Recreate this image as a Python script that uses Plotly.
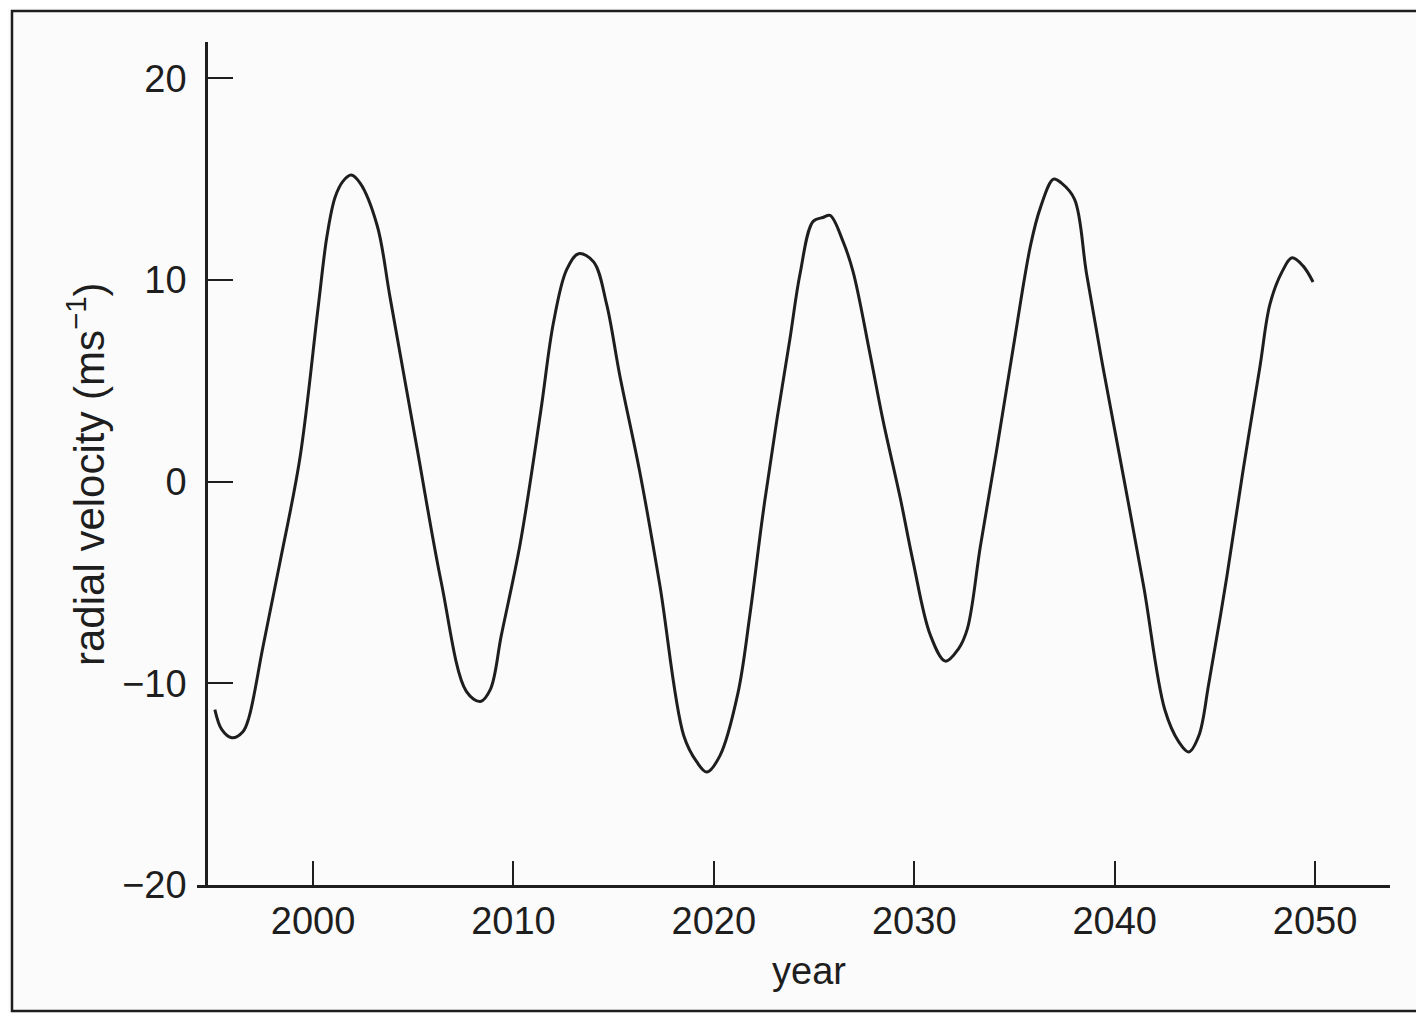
import plotly.graph_objects as go

# Data
years = [1995.1, 1995.45, 1995.95, 1996.5, 1996.8, 1997.5, 1998.35, 1999.35, 2000.25, 2000.7,
         2001.1, 2001.5, 2001.9, 2002.35, 2003.2, 2003.85, 2005.2, 2006.4, 2007.65, 2008.35,
         2008.85, 2009.4, 2010.35, 2011.35, 2012.0, 2012.65, 2013.25, 2014.0, 2014.65, 2015.3,
         2016.3, 2017.3, 2018.5, 2019.15, 2019.65, 2020.3, 2021.2, 2021.8, 2022.45, 2023.15,
         2023.8, 2024.3, 2024.95, 2025.45, 2025.8, 2026.45, 2026.95, 2027.8, 2028.45, 2029.3,
         2029.95, 2030.8, 2031.55, 2032.2, 2032.65, 2033.3, 2034.1, 2034.95, 2035.8, 2036.3,
         2036.95, 2037.35, 2038.0, 2038.6, 2039.45, 2040.45, 2041.45, 2042.5, 2043.2, 2043.7,
         2044.2, 2044.7, 2045.6, 2046.4, 2047.25, 2047.75, 2048.35, 2048.85, 2049.4, 2049.9]
radial_velocity = [-11.3, -12.3, -12.7, -12.4, -11.7, -8.2, -4.0, 1.2, 8.6, 12.2,
                   14.1, 14.9, 15.2, 14.8, 12.7, 9.1, 1.6, -5.0, -10.4, -10.9,
                   -10.3, -7.6, -3.0, 3.4, 7.9, 10.5, 11.3, 10.9, 8.8, 5.3,
                   0.5, -5.1, -12.6, -13.9, -14.4, -13.6, -10.5, -6.6, -1.6, 3.1,
                   7.1, 10.3, 12.9, 13.1, 13.2, 11.9, 10.4, 6.3, 3.0, -0.8,
                   -4.0, -7.6, -8.9, -8.3, -7.3, -3.2, 1.5, 6.7, 11.7, 13.6,
                   15.0, 14.8, 14.0, 10.3, 5.5, 0.2, -5.2, -11.3, -12.9, -13.4,
                   -12.6, -10.0, -4.7, 0.5, 5.7, 8.8, 10.4, 11.1, 10.7, 9.9]

x_ticks = [2000, 2010, 2020, 2030, 2040, 2050]
y_ticks = [-20, -10, 0, 10, 20]

INK = "#1e1e1e"
FONT = "Liberation Sans, Arial, Helvetica, sans-serif"

fig = go.Figure()
fig.add_trace(go.Scatter(
    x=years, y=radial_velocity, mode="lines",
    line=dict(color=INK, width=3, shape="spline", smoothing=1.0),
    hoverinfo="skip", showlegend=False,
))

# the page has an 8px body margin; positions below are screen pixels
OFF = 8
W, H = 1424 - 2 * OFF, 1021 - 2 * OFF
L, R, T, B = 197 - OFF, 1390 - OFF, 42 - OFF, 885 - OFF
pw, ph = R - L, B - T

def px(xs):
    return (xs - OFF - L) / pw

def py(ys):
    return (B - (ys - OFF)) / ph

fig.update_layout(
    width=W, height=H,
    margin=dict(l=L, r=W - R, t=T, b=H - B, autoexpand=False),
    paper_bgcolor="#fbfbfb", plot_bgcolor="#fbfbfb",
    font=dict(family=FONT, size=38, color=INK),
    xaxis=dict(
        range=[1994.21, 2053.74], tickvals=x_ticks, ticktext=[str(v) for v in x_ticks],
        showline=True, linecolor=INK, linewidth=2.5, ticks="inside", ticklen=24,
        tickwidth=2, tickcolor=INK, showgrid=False, zeroline=False,
        ticklabelstandoff=1, fixedrange=True,
    ),
    yaxis=dict(
        range=[-20, 21.8], tickvals=y_ticks, ticktext=["\u221220", "\u221210", "0", "10", "20"],
        anchor="free", position=px(206),
        showline=True, linecolor=INK, linewidth=2.5, ticks="inside", ticklen=25,
        tickwidth=2, tickcolor=INK, showgrid=False, zeroline=False,
        ticklabelstandoff=11, fixedrange=True,
    ),
    annotations=[
        dict(text="year", xref="paper", yref="paper", x=px(809), y=py(971),
             xanchor="center", yanchor="middle", showarrow=False,
             font=dict(family=FONT, size=38, color=INK)),
        dict(text="radial velocity (ms<sup>\u22121</sup>)", xref="paper", yref="paper",
             x=px(86), y=py(474), textangle=-90,
             xanchor="center", yanchor="middle", showarrow=False,
             font=dict(family=FONT, size=42, color=INK)),
    ],
    shapes=[
        dict(type="rect", xref="paper", yref="paper",
             x0=px(12), x1=px(1450), y0=py(1011), y1=py(11),
             line=dict(color=INK, width=2.5), fillcolor="rgba(0,0,0,0)", layer="below"),
    ],
)

fig.write_html("out.html")
